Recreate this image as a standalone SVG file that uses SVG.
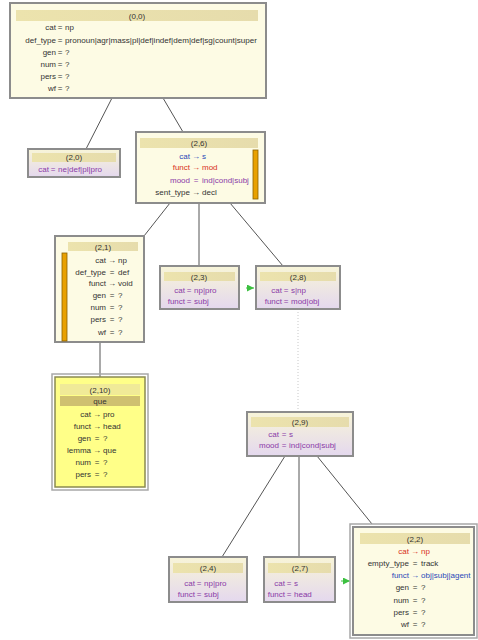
<svg xmlns="http://www.w3.org/2000/svg" width="478" height="640" viewBox="0 0 478 640">
  <defs>
    <linearGradient id="lav" x1="0" y1="0" x2="0" y2="1">
      <stop offset="0" stop-color="#f8f5d8"/>
      <stop offset="1" stop-color="#e4d8ee"/>
    </linearGradient>
    <linearGradient id="hdr" x1="0" y1="0" x2="1" y2="0">
      <stop offset="0" stop-color="#ece3ad"/>
      <stop offset="1" stop-color="#e6dcac"/>
    </linearGradient>
    <marker id="ga" viewBox="0 0 10 10" refX="10" refY="5" markerWidth="7" markerHeight="7" orient="auto" markerUnits="userSpaceOnUse">
      <path d="M0,0 L10,5 L0,10 z" fill="#3cc040"/>
    </marker>
  </defs>
  <style>
    text { font-family: "Liberation Sans", Arial, sans-serif; font-size: 8px; fill: #333; }
    .box { fill: #fdfbe4; stroke: #8c8c8c; stroke-width: 2; }
    .sbox { fill: url(#lav); stroke: #8c8c8c; stroke-width: 2; }
    .ybox { fill: #ffff88; stroke: #8a8a50; stroke-width: 1.5; }
    .frame { fill: none; stroke: #a8a8a8; stroke-width: 1.5; }
    .hdr { fill: url(#hdr); }
    .qband { fill: #cfc070; }
    .bar { fill: #e8a000; stroke: #8a6000; stroke-width: 0.8; }
    .h { text-anchor: middle; }
    .l { text-anchor: end; }
    .m { text-anchor: middle; }
    .pur { fill: #8a3aa8; }
    .red { fill: #d83020; }
    .blu { fill: #2a48b8; }
    .edge { stroke: #555; stroke-width: 1; fill: none; }
    .dot { stroke: #c8c8c8; stroke-width: 1; stroke-dasharray: 1 2; fill: none; }
    .green { stroke: #3cc040; stroke-width: 1; fill: none; }
  </style>

  <g id="connectors">
    <line class="edge" x1="112" y1="98" x2="86" y2="149"/>
    <line class="edge" x1="163" y1="98" x2="183" y2="132"/>
    <line class="edge" x1="170" y1="203" x2="144" y2="236"/>
    <line class="edge" x1="199" y1="203" x2="199" y2="266"/>
    <line class="edge" x1="230" y1="203" x2="283" y2="266"/>
    <line class="edge" x1="100" y1="342" x2="100" y2="377"/>
    <line class="dot" x1="298" y1="309" x2="298" y2="412"/>
    <line class="edge" x1="285" y1="456" x2="222" y2="557"/>
    <line class="edge" x1="299" y1="456" x2="299" y2="557"/>
    <line class="edge" x1="317" y1="456" x2="372" y2="524"/>
    <line class="green" x1="246" y1="288" x2="254" y2="288" marker-end="url(#ga)"/>
    <line class="green" x1="341" y1="581" x2="350" y2="581" marker-end="url(#ga)"/>
  </g>

  <g id="n0-0">
    <rect class="box" x="10" y="3" width="256" height="95"/>
    <rect class="hdr" x="16" y="10" width="242" height="11"/>
    <text class="h" x="137" y="19">(0,0)</text>
    <text y="30"><tspan class="l" x="56">cat</tspan><tspan class="m" x="60">=</tspan><tspan x="65">np</tspan></text>
    <text y="43"><tspan class="l" x="56">def_type</tspan><tspan class="m" x="60">=</tspan><tspan x="65" textLength="192" lengthAdjust="spacingAndGlyphs">pronoun|agr|mass|pl|def|indef|dem|def|sg|count|super</tspan></text>
    <text y="55"><tspan class="l" x="56">gen</tspan><tspan class="m" x="60">=</tspan><tspan x="65">?</tspan></text>
    <text y="67"><tspan class="l" x="56">num</tspan><tspan class="m" x="60">=</tspan><tspan x="65">?</tspan></text>
    <text y="79"><tspan class="l" x="56">pers</tspan><tspan class="m" x="60">=</tspan><tspan x="65">?</tspan></text>
    <text y="91"><tspan class="l" x="56">wf</tspan><tspan class="m" x="60">=</tspan><tspan x="65">?</tspan></text>
  </g>

  <g id="n2-0">
    <rect class="sbox" x="28" y="149" width="92" height="28"/>
    <rect class="hdr" x="32" y="153" width="84" height="9"/>
    <text class="h" x="74" y="160">(2,0)</text>
    <text y="172" class="pur"><tspan class="l" x="49">cat</tspan><tspan class="m" x="53">=</tspan><tspan x="58">ne|def|pl|pro</tspan></text>
  </g>

  <g id="n2-6">
    <rect class="box" x="136" y="132" width="129" height="71"/>
    <rect class="hdr" x="140" y="138" width="118" height="10"/>
    <text class="h" x="199" y="146">(2,6)</text>
    <rect class="bar" x="253" y="150" width="5" height="49"/>
    <text y="159" class="blu"><tspan class="l" x="190">cat</tspan><tspan class="m" x="196">→</tspan><tspan x="202">s</tspan></text>
    <text y="170" class="red"><tspan class="l" x="190">funct</tspan><tspan class="m" x="196">→</tspan><tspan x="202">mod</tspan></text>
    <text y="183" class="pur"><tspan class="l" x="190">mood</tspan><tspan class="m" x="196">=</tspan><tspan x="202">ind|cond|subj</tspan></text>
    <text y="195"><tspan class="l" x="190">sent_type</tspan><tspan class="m" x="196">→</tspan><tspan x="202">decl</tspan></text>
  </g>

  <g id="n2-1">
    <rect class="box" x="55" y="236" width="89" height="106"/>
    <rect class="hdr" x="68" y="242" width="70" height="9"/>
    <text class="h" x="103" y="250">(2,1)</text>
    <rect class="bar" x="62" y="253" width="5" height="88"/>
    <text y="263"><tspan class="l" x="106">cat</tspan><tspan class="m" x="112">→</tspan><tspan x="118">np</tspan></text>
    <text y="275"><tspan class="l" x="106">def_type</tspan><tspan class="m" x="112">=</tspan><tspan x="118">def</tspan></text>
    <text y="286"><tspan class="l" x="106">funct</tspan><tspan class="m" x="112">→</tspan><tspan x="118">void</tspan></text>
    <text y="298"><tspan class="l" x="106">gen</tspan><tspan class="m" x="112">=</tspan><tspan x="118">?</tspan></text>
    <text y="310"><tspan class="l" x="106">num</tspan><tspan class="m" x="112">=</tspan><tspan x="118">?</tspan></text>
    <text y="322"><tspan class="l" x="106">pers</tspan><tspan class="m" x="112">=</tspan><tspan x="118">?</tspan></text>
    <text y="335"><tspan class="l" x="106">wf</tspan><tspan class="m" x="112">=</tspan><tspan x="118">?</tspan></text>
  </g>

  <g id="n2-3">
    <rect class="sbox" x="160" y="266" width="79" height="43"/>
    <rect class="hdr" x="164" y="272" width="71" height="9"/>
    <text class="h" x="199" y="280">(2,3)</text>
    <text y="293" class="pur"><tspan class="l" x="185">cat</tspan><tspan class="m" x="189">=</tspan><tspan x="194">np|pro</tspan></text>
    <text y="304" class="pur"><tspan class="l" x="185">funct</tspan><tspan class="m" x="189">=</tspan><tspan x="194">subj</tspan></text>
  </g>

  <g id="n2-8">
    <rect class="sbox" x="256" y="266" width="84" height="43"/>
    <rect class="hdr" x="260" y="272" width="76" height="9"/>
    <text class="h" x="298" y="280">(2,8)</text>
    <text y="293" class="pur"><tspan class="l" x="282">cat</tspan><tspan class="m" x="286">=</tspan><tspan x="291">s|np</tspan></text>
    <text y="304" class="pur"><tspan class="l" x="282">funct</tspan><tspan class="m" x="286">=</tspan><tspan x="291">mod|obj</tspan></text>
  </g>

  <g id="n2-10">
    <rect class="frame" x="52" y="374" width="96" height="116"/>
    <rect class="ybox" x="55" y="377" width="90" height="110"/>
    <rect fill="#f0ea98" x="60" y="384" width="80" height="11"/>
    <text class="h" x="100" y="393">(2,10)</text>
    <rect class="qband" x="60" y="396" width="80" height="10"/>
    <text class="h" x="100" y="404">que</text>
    <text y="417"><tspan class="l" x="91">cat</tspan><tspan class="m" x="97">→</tspan><tspan x="103">pro</tspan></text>
    <text y="429"><tspan class="l" x="91">funct</tspan><tspan class="m" x="97">→</tspan><tspan x="103">head</tspan></text>
    <text y="441"><tspan class="l" x="91">gen</tspan><tspan class="m" x="97">=</tspan><tspan x="103">?</tspan></text>
    <text y="453"><tspan class="l" x="91">lemma</tspan><tspan class="m" x="97">→</tspan><tspan x="103">que</tspan></text>
    <text y="465"><tspan class="l" x="91">num</tspan><tspan class="m" x="97">=</tspan><tspan x="103">?</tspan></text>
    <text y="477"><tspan class="l" x="91">pers</tspan><tspan class="m" x="97">=</tspan><tspan x="103">?</tspan></text>
  </g>

  <g id="n2-9">
    <rect class="sbox" x="247" y="412" width="106" height="44"/>
    <rect class="hdr" x="251" y="417" width="98" height="10"/>
    <text class="h" x="300" y="425">(2,9)</text>
    <text y="437" class="pur"><tspan class="l" x="279">cat</tspan><tspan class="m" x="284">=</tspan><tspan x="289">s</tspan></text>
    <text y="448" class="pur"><tspan class="l" x="279">mood</tspan><tspan class="m" x="284">=</tspan><tspan x="289">ind|cond|subj</tspan></text>
  </g>

  <g id="n2-4">
    <rect class="sbox" x="169" y="557" width="78" height="45"/>
    <rect class="hdr" x="173" y="563" width="70" height="10"/>
    <text class="h" x="208" y="571">(2,4)</text>
    <text y="586" class="pur"><tspan class="l" x="195">cat</tspan><tspan class="m" x="199">=</tspan><tspan x="204">np|pro</tspan></text>
    <text y="597" class="pur"><tspan class="l" x="195">funct</tspan><tspan class="m" x="199">=</tspan><tspan x="204">subj</tspan></text>
  </g>

  <g id="n2-7">
    <rect class="sbox" x="264" y="557" width="71" height="45"/>
    <rect class="hdr" x="268" y="563" width="63" height="10"/>
    <text class="h" x="300" y="571">(2,7)</text>
    <text y="586" class="pur"><tspan class="l" x="285">cat</tspan><tspan class="m" x="289">=</tspan><tspan x="294">s</tspan></text>
    <text y="597" class="pur"><tspan class="l" x="285">funct</tspan><tspan class="m" x="289">=</tspan><tspan x="294">head</tspan></text>
  </g>

  <g id="n2-2">
    <rect class="frame" x="350" y="524" width="127" height="114"/>
    <rect class="box" x="353" y="527" width="121" height="108"/>
    <rect class="hdr" x="360" y="533" width="110" height="11"/>
    <text class="h" x="415" y="542">(2,2)</text>
    <text y="554" class="red"><tspan class="l" x="409">cat</tspan><tspan class="m" x="415">→</tspan><tspan x="421">np</tspan></text>
    <text y="566"><tspan class="l" x="409">empty_type</tspan><tspan class="m" x="415">=</tspan><tspan x="421">track</tspan></text>
    <text y="578" class="blu"><tspan class="l" x="409">funct</tspan><tspan class="m" x="415">→</tspan><tspan x="421">obj|subj|agent</tspan></text>
    <text y="590"><tspan class="l" x="409">gen</tspan><tspan class="m" x="415">=</tspan><tspan x="421">?</tspan></text>
    <text y="603"><tspan class="l" x="409">num</tspan><tspan class="m" x="415">=</tspan><tspan x="421">?</tspan></text>
    <text y="615"><tspan class="l" x="409">pers</tspan><tspan class="m" x="415">=</tspan><tspan x="421">?</tspan></text>
    <text y="627"><tspan class="l" x="409">wf</tspan><tspan class="m" x="415">=</tspan><tspan x="421">?</tspan></text>
  </g>
</svg>
